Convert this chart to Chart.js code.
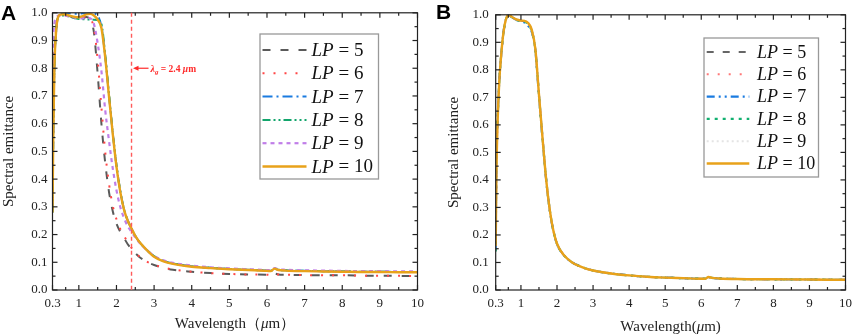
<!DOCTYPE html>
<html>
<head>
<meta charset="utf-8">
<script src="https://cdn.jsdelivr.net/npm/chart.js@4.4.1/dist/chart.umd.min.js"></script>
<style>
body { margin: 0; background: #fff; }
#wrap { position: relative; width: 858px; height: 336px; }
canvas { position: absolute; top: 0; }
#chart-a { left: 0; }
#chart-b { left: 430px; }
</style>
</head>
<body>
<div id="wrap">
<canvas id="chart-a" width="430" height="336"></canvas>
<canvas id="chart-b" width="428" height="336"></canvas>
</div>
<script>
// tick values / labels
var xTicks = [0.3, 1, 2, 3, 4, 5, 6, 7, 8, 9, 10];
var xTickLabels = ['0.3', '1', '2', '3', '4', '5', '6', '7', '8', '9', '10'];
var xMinorTicks = [0.65, 1.5, 2.5, 3.5, 4.5, 5.5, 6.5, 7.5, 8.5, 9.5];
var yTicks = [0, 0.1, 0.2, 0.3, 0.4, 0.5, 0.6, 0.7, 0.8, 0.9, 1.0];
var yMinorTicks = [0.05, 0.15, 0.25, 0.35, 0.45, 0.55, 0.65, 0.75, 0.85, 0.95];
var legendLabels = ['5', '6', '7', '8', '9', '10'];
var lambdaG = 2.4;

// panel A
var xA = [0.3, 0.32, 0.35, 0.4, 0.45, 0.5, 0.6, 0.7, 0.8, 0.9, 1.0, 1.1, 1.2, 1.3, 1.4, 1.5, 1.6, 1.7, 1.8, 1.9, 2.0,
    2.1, 2.2, 2.3, 2.4, 2.5, 2.6, 2.8, 3.0, 3.25, 3.5, 4.0, 4.5, 5.0, 5.5, 6.0, 6.1, 6.2, 6.3, 6.5, 7.0, 7.5, 8.0, 8.5, 9.0, 9.5, 10];
var lp5A = [0.30, 0.58, 0.82, 0.95, 0.985, 0.99, 0.993, 0.99, 0.985, 0.978, 0.975, 0.98, 0.985, 0.975, 0.93, 0.78, 0.60, 0.46, 0.355, 0.285, 0.24,
    0.21, 0.188, 0.165, 0.148, 0.133, 0.12, 0.102, 0.09, 0.08, 0.073, 0.066, 0.061, 0.058, 0.056, 0.055, 0.054, 0.059, 0.056, 0.055, 0.054, 0.053, 0.053, 0.052, 0.051, 0.051, 0.05];
var lp6A = [0.29, 0.57, 0.81, 0.95, 0.985, 0.99, 0.993, 0.99, 0.986, 0.98, 0.977, 0.982, 0.987, 0.98, 0.945, 0.83, 0.66, 0.50, 0.385, 0.305, 0.255,
    0.22, 0.195, 0.172, 0.152, 0.136, 0.122, 0.103, 0.091, 0.081, 0.074, 0.066, 0.061, 0.058, 0.056, 0.055, 0.054, 0.059, 0.056, 0.055, 0.054, 0.053, 0.053, 0.052, 0.051, 0.051, 0.05];
var lp7A = [0.28, 0.55, 0.80, 0.94, 0.985, 0.995, 0.998, 0.999, 0.998, 0.997, 0.997, 0.998, 0.999, 0.999, 0.997, 0.99, 0.95, 0.845, 0.705, 0.57, 0.45,
    0.358, 0.292, 0.251, 0.222, 0.195, 0.175, 0.145, 0.122, 0.105, 0.096, 0.086, 0.08, 0.076, 0.073, 0.07, 0.069, 0.078, 0.073, 0.071, 0.069, 0.068, 0.067, 0.066, 0.066, 0.065, 0.065];
var lp8A = [0.28, 0.55, 0.80, 0.94, 0.984, 0.99, 0.99, 0.988, 0.984, 0.98, 0.978, 0.977, 0.976, 0.976, 0.975, 0.974, 0.96, 0.85, 0.71, 0.57, 0.45,
    0.357, 0.291, 0.25, 0.222, 0.195, 0.175, 0.145, 0.122, 0.105, 0.096, 0.086, 0.08, 0.076, 0.073, 0.07, 0.069, 0.078, 0.073, 0.071, 0.069, 0.068, 0.067, 0.066, 0.066, 0.065, 0.065];
var lp9A = [0.70, 0.90, 0.96, 0.98, 0.99, 0.99, 0.99, 0.988, 0.985, 0.982, 0.98, 0.98, 0.982, 0.98, 0.96, 0.89, 0.79, 0.65, 0.54, 0.44, 0.36,
    0.30, 0.26, 0.23, 0.21, 0.19, 0.172, 0.145, 0.123, 0.107, 0.098, 0.088, 0.082, 0.078, 0.075, 0.072, 0.071, 0.079, 0.075, 0.073, 0.071, 0.07, 0.069, 0.068, 0.068, 0.067, 0.067];
var lp10A = [0.28, 0.55, 0.80, 0.94, 0.985, 0.993, 0.995, 0.992, 0.988, 0.985, 0.984, 0.988, 0.994, 0.996, 0.99, 0.975, 0.945, 0.84, 0.70, 0.565, 0.445,
    0.355, 0.29, 0.25, 0.222, 0.195, 0.175, 0.145, 0.12, 0.103, 0.094, 0.084, 0.079, 0.075, 0.072, 0.069, 0.068, 0.077, 0.072, 0.07, 0.068, 0.067, 0.066, 0.065, 0.065, 0.064, 0.064];

// panel B
var xB = [0.3, 0.32, 0.35, 0.4, 0.45, 0.5, 0.55, 0.6, 0.65, 0.7, 0.8, 0.9, 1.0, 1.1, 1.2, 1.3, 1.4, 1.5, 1.6, 1.7, 1.8,
    1.9, 2.0, 2.2, 2.4, 2.6, 2.8, 3.0, 3.5, 4.0, 4.5, 5.0, 5.5, 6.0, 6.1, 6.2, 6.3, 6.5, 7.0, 8.0, 9.0, 10];
var lp5B = [0.18, 0.44, 0.60, 0.76, 0.85, 0.92, 0.965, 0.99, 0.999, 0.996, 0.987, 0.981, 0.978, 0.977, 0.968, 0.943, 0.872, 0.71, 0.55, 0.40, 0.29,
    0.215, 0.168, 0.125, 0.102, 0.088, 0.078, 0.071, 0.06, 0.053, 0.048, 0.045, 0.043, 0.041, 0.041, 0.047, 0.044, 0.042, 0.040, 0.039, 0.038, 0.037];
var lp6B = [0.17, 0.43, 0.60, 0.76, 0.85, 0.92, 0.965, 0.99, 1.0, 0.997, 0.988, 0.982, 0.979, 0.977, 0.969, 0.944, 0.874, 0.71, 0.55, 0.40, 0.29,
    0.215, 0.168, 0.125, 0.102, 0.088, 0.078, 0.071, 0.06, 0.053, 0.048, 0.045, 0.043, 0.041, 0.041, 0.047, 0.044, 0.042, 0.040, 0.039, 0.038, 0.037];
var lp7B = [0.15, 0.50, 0.61, 0.76, 0.85, 0.92, 0.965, 0.99, 1.0, 0.996, 0.987, 0.98, 0.976, 0.972, 0.96, 0.938, 0.87, 0.705, 0.548, 0.40, 0.29,
    0.214, 0.167, 0.125, 0.102, 0.088, 0.078, 0.071, 0.06, 0.053, 0.048, 0.045, 0.043, 0.041, 0.041, 0.047, 0.044, 0.042, 0.040, 0.039, 0.038, 0.037];
var lp8B = [0.14, 0.55, 0.62, 0.76, 0.85, 0.92, 0.965, 0.99, 1.0, 0.996, 0.987, 0.98, 0.977, 0.975, 0.965, 0.94, 0.872, 0.708, 0.549, 0.40, 0.29,
    0.215, 0.168, 0.125, 0.102, 0.088, 0.078, 0.071, 0.06, 0.053, 0.048, 0.045, 0.043, 0.041, 0.041, 0.047, 0.044, 0.042, 0.040, 0.039, 0.038, 0.037];
var lp9B = [0.16, 0.42, 0.60, 0.76, 0.85, 0.92, 0.965, 0.99, 1.0, 0.997, 0.988, 0.982, 0.979, 0.978, 0.97, 0.945, 0.875, 0.71, 0.55, 0.40, 0.29,
    0.215, 0.168, 0.125, 0.102, 0.088, 0.078, 0.071, 0.06, 0.053, 0.048, 0.045, 0.043, 0.041, 0.041, 0.047, 0.044, 0.042, 0.040, 0.039, 0.038, 0.037];
var lp10B = [0.16, 0.42, 0.60, 0.76, 0.85, 0.92, 0.965, 0.99, 1.0, 0.997, 0.988, 0.982, 0.979, 0.978, 0.97, 0.945, 0.875, 0.71, 0.55, 0.40, 0.29,
    0.215, 0.168, 0.125, 0.102, 0.088, 0.078, 0.071, 0.06, 0.053, 0.048, 0.045, 0.043, 0.041, 0.041, 0.047, 0.044, 0.042, 0.040, 0.039, 0.038, 0.037];

var SERIF = '"Liberation Serif", "Times New Roman", serif';

function makeSet(label, xs, ys, color, dash, width, order) {
    return {
        label: label,
        data: xs.map(function (x, i) { return { x: x, y: ys[i] }; }),
        borderColor: color,
        borderDash: dash,
        borderWidth: width,
        pointRadius: 0,
        fill: false,
        cubicInterpolationMode: 'monotone',
        order: order
    };
}

function line(ctx, x1, y1, x2, y2) {
    ctx.beginPath();
    ctx.moveTo(x1, y1);
    ctx.lineTo(x2, y2);
    ctx.stroke();
}

// frame box + inward ticks on all four sides
var frameTicks = {
    id: 'frameTicks',
    afterDraw: function (chart) {
        var ctx = chart.ctx, a = chart.chartArea, xs = chart.scales.x, ys = chart.scales.y;
        ctx.save();
        ctx.strokeStyle = '#222';
        ctx.lineWidth = 1.2;
        ctx.setLineDash([]);
        ctx.strokeRect(a.left, a.top, a.right - a.left, a.bottom - a.top);
        xTicks.forEach(function (v) {
            var p = xs.getPixelForValue(v);
            line(ctx, p, a.bottom, p, a.bottom - 5);
            line(ctx, p, a.top, p, a.top + 5);
        });
        xMinorTicks.forEach(function (v) {
            var p = xs.getPixelForValue(v);
            line(ctx, p, a.bottom, p, a.bottom - 3);
            line(ctx, p, a.top, p, a.top + 3);
        });
        yTicks.forEach(function (v) {
            var p = ys.getPixelForValue(v);
            line(ctx, a.left, p, a.left + 5, p);
            line(ctx, a.right, p, a.right - 5, p);
        });
        yMinorTicks.forEach(function (v) {
            var p = ys.getPixelForValue(v);
            line(ctx, a.left, p, a.left + 3, p);
            line(ctx, a.right, p, a.right - 3, p);
        });
        ctx.restore();
    }
};

function drawParts(ctx, parts, x, y) {
    parts.forEach(function (p) {
        ctx.font = p[1];
        ctx.fillText(p[0], x, y + (p[2] || 0));
        x += ctx.measureText(p[0]).width;
    });
    return x;
}

function partsWidth(ctx, parts) {
    var w = 0;
    parts.forEach(function (p) {
        ctx.font = p[1];
        w += ctx.measureText(p[0]).width;
    });
    return w;
}

function makeDecor(cfg) {
    return {
        id: 'decor',
        afterDraw: function (chart) {
            var ctx = chart.ctx, a = chart.chartArea;
            ctx.save();
            ctx.setLineDash([]);

            // panel letter
            ctx.fillStyle = '#000';
            ctx.textBaseline = 'alphabetic';
            ctx.font = 'bold 21px "Liberation Sans", Arial, sans-serif';
            ctx.fillText(cfg.letter, cfg.letterX, cfg.letterY);

            // x axis title with italic mu
            ctx.fillStyle = '#222';
            var w = partsWidth(ctx, cfg.xTitle);
            drawParts(ctx, cfg.xTitle, (a.left + a.right) / 2 - w / 2 + cfg.xTitleShift, cfg.xTitleY);

            // legend
            var L = cfg.legend;
            ctx.fillStyle = '#fff';
            ctx.fillRect(L.x0, L.y0, L.x1 - L.x0, L.y1 - L.y0);
            ctx.strokeStyle = '#999';
            ctx.lineWidth = 1.3;
            ctx.strokeRect(L.x0, L.y0, L.x1 - L.x0, L.y1 - L.y0);
            chart.data.datasets.forEach(function (ds, i) {
                var yy = L.first + i * L.step;
                ctx.strokeStyle = ds.borderColor;
                ctx.lineWidth = ds.borderWidth;
                ctx.setLineDash(ds.borderDash || []);
                line(ctx, L.lx0, yy, L.lx1, yy);
                ctx.setLineDash([]);
                ctx.fillStyle = '#111';
                ctx.textBaseline = 'middle';
                drawParts(ctx, [
                    ['LP', 'italic ' + L.font + 'px ' + SERIF],
                    [' = ' + legendLabels[i], L.font + 'px ' + SERIF]
                ], L.tx, yy + 1);
            });

            // cut-off wavelength marker
            if (cfg.marker) {
                var xs = chart.scales.x, ys = chart.scales.y;
                var px = xs.getPixelForValue(lambdaG);
                ctx.strokeStyle = '#ff5a5a';
                ctx.lineWidth = 1.4;
                ctx.setLineDash([4, 3]);
                line(ctx, px, a.top, px, a.bottom);
                ctx.setLineDash([]);
                var py = ys.getPixelForValue(0.8);
                ctx.strokeStyle = '#ff2a2a';
                ctx.lineWidth = 1.2;
                line(ctx, px + 5, py, px + 17, py);
                ctx.fillStyle = '#ff2a2a';
                ctx.beginPath();
                ctx.moveTo(px + 1.5, py);
                ctx.lineTo(px + 7, py - 2.5);
                ctx.lineTo(px + 7, py + 2.5);
                ctx.closePath();
                ctx.fill();
                ctx.textBaseline = 'middle';
                drawParts(ctx, [
                    ['λ', 'bold italic 10px ' + SERIF],
                    ['g', 'bold italic 7px ' + SERIF, 3],
                    [' = 2.4 ', 'bold 9.5px ' + SERIF],
                    ['μ', 'bold italic 9.5px ' + SERIF],
                    ['m', 'bold 9.5px ' + SERIF]
                ], px + 19, py + 1);
            }
            ctx.restore();
        }
    };
}

function baseOptions(padding, yWidth, tickPad) {
    return {
        responsive: false,
        animation: false,
        layout: { padding: padding },
        plugins: { legend: { display: false }, tooltip: { enabled: false } },
        scales: {
            x: {
                type: 'linear',
                min: 0.3,
                max: 10,
                afterBuildTicks: function (s) { s.ticks = xTicks.map(function (v) { return { value: v }; }); },
                afterFit: function (s) { s.height = 46; },
                grid: { display: false, drawTicks: false },
                border: { display: false },
                ticks: {
                    autoSkip: false,
                    maxRotation: 0,
                    padding: 6,
                    color: '#222',
                    font: { family: SERIF, size: 13 },
                    callback: function (v, i) { return xTickLabels[i]; }
                }
            },
            y: {
                min: 0,
                max: 1,
                afterBuildTicks: function (s) { s.ticks = yTicks.map(function (v) { return { value: v }; }); },
                afterFit: function (s) { s.width = yWidth; },
                grid: { display: false, drawTicks: false },
                border: { display: false },
                title: {
                    display: true,
                    text: 'Spectral emittance',
                    color: '#222',
                    font: { family: SERIF, size: 15 },
                    padding: { top: 0, bottom: 0 }
                },
                ticks: {
                    padding: tickPad,
                    color: '#222',
                    font: { family: SERIF, size: 13 },
                    callback: function (v) { return v.toFixed(1); }
                }
            }
        }
    };
}

new Chart(document.getElementById('chart-a'), {
    type: 'line',
    data: {
        datasets: [
            makeSet('LP = 5', xA, lp5A, '#5a5a5a', [8, 10], 2, 5),
            makeSet('LP = 6', xA, lp6A, '#ff4646', [2, 9], 2, 4),
            makeSet('LP = 7', xA, lp7A, '#1a7be0', [10, 4, 2, 4], 2, 3),
            makeSet('LP = 8', xA, lp8A, '#12a56c', [8, 3, 2, 3, 2, 3], 2, 2),
            makeSet('LP = 9', xA, lp9A, '#c07ee8', [4, 4], 2.2, 1),
            makeSet('LP = 10', xA, lp10A, '#e8a21a', [], 2.4, 0)
        ]
    },
    options: baseOptions({ top: 6, right: 11, left: 0, bottom: 0 }, 52.5, 5),
    plugins: [frameTicks, makeDecor({
        letter: 'A', letterX: 1, letterY: 20,
        xTitle: [['Wavelength（', '15px ' + SERIF], ['μ', 'italic 15px ' + SERIF], ['m）', '15px ' + SERIF]],
        xTitleShift: 0, xTitleY: 328,
        legend: { x0: 260, y0: 34, x1: 378.5, y1: 179, first: 50, step: 23.3, lx0: 262.5, lx1: 306.5, tx: 311.5, font: 19 },
        marker: true
    })]
});

new Chart(document.getElementById('chart-b'), {
    type: 'line',
    data: {
        datasets: [
            makeSet('LP = 5', xB, lp5B, '#666666', [7, 9], 2, 5),
            makeSet('LP = 6', xB, lp6B, '#ff7878', [2, 9], 2, 4),
            makeSet('LP = 7', xB, lp7B, '#1a7be0', [8, 4, 2, 4, 2, 4], 2.2, 3),
            makeSet('LP = 8', xB, lp8B, '#12b070', [3, 5], 2.2, 2),
            makeSet('LP = 9', xB, lp9B, '#e4e4e4', [2, 3], 2, 1),
            makeSet('LP = 10', xB, lp10B, '#e8a21a', [], 2.4, 0)
        ]
    },
    options: baseOptions({ top: 9.3, right: 7.3, left: 14.6, bottom: 0 }, 51.1, 7),
    plugins: [frameTicks, makeDecor({
        letter: 'B', letterX: 6, letterY: 19,
        xTitle: [['Wavelength(', '15px ' + SERIF], ['μ', 'italic 15px ' + SERIF], ['m)', '15px ' + SERIF]],
        xTitleShift: 0, xTitleY: 331,
        legend: { x0: 274, y0: 38, x1: 388.5, y1: 177, first: 52, step: 22.3, lx0: 276.7, lx1: 319.3, tx: 327, font: 18 },
        marker: false
    })]
});
</script>
</body>
</html>
